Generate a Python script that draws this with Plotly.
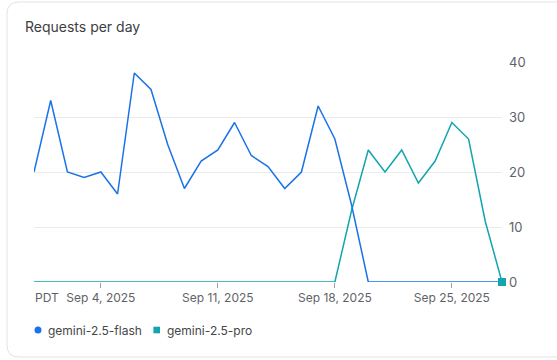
import plotly.graph_objects as go
import pandas as pd

dates = pd.date_range("2025-08-31", "2025-09-28", freq="D").strftime("%Y-%m-%d").tolist()
flash = [20, 33, 20, 19, 20, 16, 38, 35, 25, 17, 22, 24, 29, 23, 21, 17, 20, 32, 26, 14,
         0, 0, 0, 0, 0, 0, 0, 0, 0]
pro = [0, 0, 0, 0, 0, 0, 0, 0, 0, 0, 0, 0, 0, 0, 0, 0, 0, 0, 0, 13,
       24, 20, 24, 18, 22, 29, 26, 11, 0]
tick_vals = ["2025-09-04", "2025-09-11", "2025-09-18", "2025-09-25"]
tick_text = ["Sep 4, 2025", "Sep 11, 2025", "Sep 18, 2025", "Sep 25, 2025"]
series_names = ["gemini-2.5-flash", "gemini-2.5-pro"]

BLUE = "#1a73e8"
TEAL = "#12a4af"
FONT = "Inter, Roboto, sans-serif"

L, R, T, B = 34, 55, 62, 78
W = 557 - L - R
H = 360 - T - B

def px(x):
    return (x - L) / W

def py(y):
    return (360 - B - y) / H

fig = go.Figure()
fig.add_trace(go.Scatter(x=dates, y=pro, mode="lines", line=dict(color=TEAL, width=1.5),
                         name=series_names[1], showlegend=False, hoverinfo="skip", cliponaxis=False))
fig.add_trace(go.Scatter(x=dates, y=flash, mode="lines", line=dict(color=BLUE, width=1.5),
                         name=series_names[0], showlegend=False, hoverinfo="skip", cliponaxis=False))
fig.add_trace(go.Scatter(x=[dates[-1]], y=[pro[-1]], mode="markers",
                         marker=dict(symbol="square", size=8, color=TEAL),
                         showlegend=False, cliponaxis=False, hoverinfo="skip"))

# card outline
x0, x1 = px(7), px(590)
y0, y1 = py(357), py(2)
rx, ry = 12 / W, 12 / H
card = (f"M {x0+rx},{y1} L {x1-rx},{y1} Q {x1},{y1} {x1},{y1-ry} L {x1},{y0+ry} "
        f"Q {x1},{y0} {x1-rx},{y0} L {x0+rx},{y0} Q {x0},{y0} {x0},{y0+ry} "
        f"L {x0},{y1-ry} Q {x0},{y1} {x0+rx},{y1} Z")
fig.add_shape(type="path", path=card, xref="paper", yref="paper",
              line=dict(color="#e3e3e3", width=1), layer="below")

# legend (custom, compact)
leg_y = py(330)
fig.add_shape(type="circle", xref="paper", yref="paper", xsizemode="pixel", ysizemode="pixel",
              xanchor=px(38), yanchor=leg_y, x0=-3.5, x1=3.5, y0=-3.5, y1=3.5,
              fillcolor=BLUE, line=dict(width=0))
fig.add_shape(type="rect", xref="paper", yref="paper", xsizemode="pixel", ysizemode="pixel",
              xanchor=px(156.7), yanchor=leg_y, x0=-3.3, x1=3.3, y0=-3.3, y1=3.3,
              fillcolor=TEAL, line=dict(width=0))
fig.add_annotation(text=series_names[0], xref="paper", yref="paper", x=px(47), y=leg_y,
                   xanchor="left", yanchor="middle", showarrow=False, borderpad=0,
                   font=dict(family=FONT, size=12, color="#444746"))
fig.add_annotation(text=series_names[1], xref="paper", yref="paper", x=px(166), y=leg_y,
                   xanchor="left", yanchor="middle", showarrow=False, borderpad=0,
                   font=dict(family=FONT, size=12, color="#444746"))

fig.add_annotation(text="Requests per day", xref="paper", yref="paper",
                   x=px(23), y=py(27), xanchor="left", yanchor="middle", showarrow=False,
                   font=dict(family=FONT, size=14, color="#3c4043"))
fig.add_annotation(text="PDT", xref="paper", yref="paper",
                   x=px(33), y=py(297), xanchor="left", yanchor="middle", showarrow=False,
                   font=dict(family=FONT, size=12, color="#5f6368"))

fig.update_layout(
    width=557, height=360,
    margin=dict(l=L, r=R, t=T, b=B),
    paper_bgcolor="white", plot_bgcolor="white",
    font=dict(family=FONT, size=12, color="#5f6368"),
    showlegend=False,
    xaxis=dict(type="date", range=[dates[0], dates[-1]], tickvals=tick_vals, ticktext=tick_text,
               showgrid=False, zeroline=False, showline=False,
               ticks="outside", ticklen=5, tickcolor="#9aa0a6", tickwidth=1,
               tickfont=dict(family=FONT, size=12, color="#5f6368")),
    yaxis=dict(range=[0, 40], dtick=10, side="right", showgrid=True, gridcolor="#ebebeb",
               gridwidth=1, zeroline=False, showline=False, ticks="",
               ticklabelstandoff=6,
               tickfont=dict(family=FONT, size=13, color="#5f6368")),
)

fig.write_html("out.html", config={"displayModeBar": False},
               post_script="document.body.style.margin='0px';")
